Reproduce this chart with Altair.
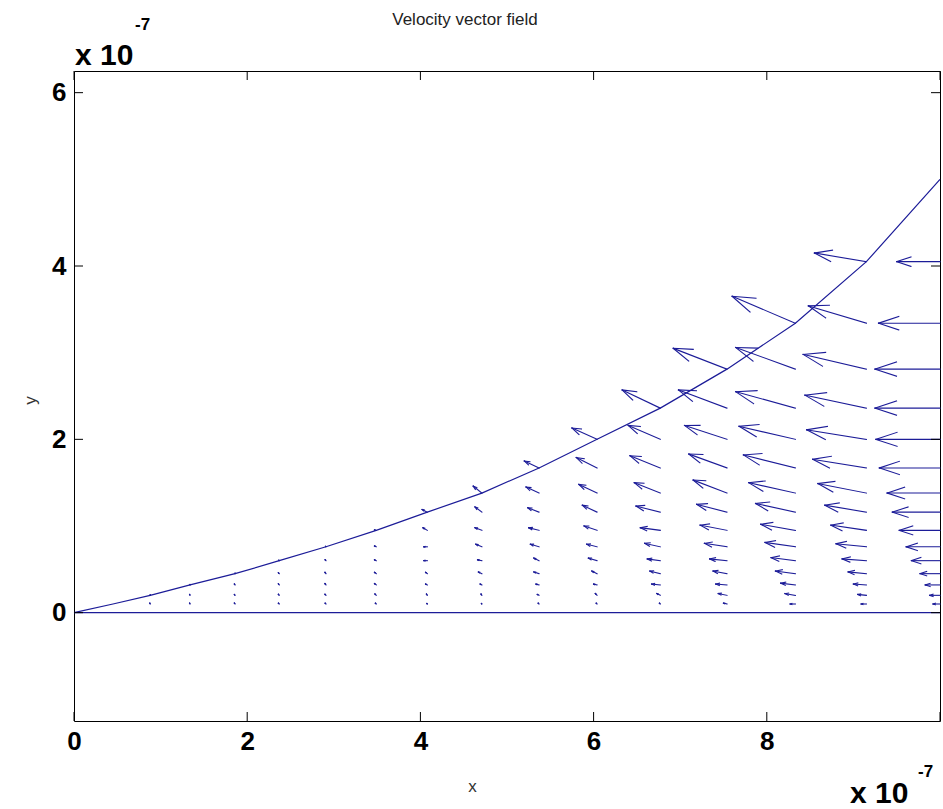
import altair as alt
import pandas as pd

# ---- data (x and y in units of 1e-7) ----
COL_X = [0.45, 0.88, 1.34, 1.86, 2.37, 2.91, 3.49, 4.08, 4.71, 5.37,
         6.04, 6.77, 7.54, 8.33, 9.15, 10.0]
ROW_Y = [0.10, 0.20, 0.32, 0.45, 0.60, 0.76, 0.95, 1.16, 1.38, 1.67,
         2.00, 2.36, 2.81, 3.34, 4.05, 5.00]

# upper boundary curve and the lower wall
CURVE_X = [0.0] + COL_X
CURVE_Y = [0.0] + ROW_Y
BASE_X = [0.0, 10.0]
BASE_Y = [0.0, 0.0]

# drawn vector components per column (bottom row first)
U_COLS = [
    [0.0],
    [-0.005, 0.0],
    [-0.005, -0.005, 0.0],
    [-0.008, -0.008, -0.008, 0.0],
    [-0.01, -0.01, -0.01, -0.01, -0.005],
    [-0.01, -0.012, -0.012, -0.012, -0.01, -0.005],
    [-0.01, -0.015, -0.02, -0.02, -0.02, -0.02, -0.02],
    [-0.005, -0.01, -0.02, -0.02, -0.04, -0.04, -0.05, -0.06],
    [-0.005, -0.01, -0.02, -0.04, -0.05, -0.07, -0.08, -0.08, -0.10],
    [-0.01, -0.02, -0.035, -0.06, -0.06, -0.10, -0.12, -0.13, -0.15, -0.17],
    [-0.01, -0.02, -0.04, -0.06, -0.10, -0.12, -0.15, -0.17, -0.21, -0.24, -0.29],
    [-0.01, -0.04, -0.10, -0.12, -0.15, -0.18, -0.23, -0.28, -0.30, -0.35, -0.37, -0.44],
    [-0.04, -0.10, -0.13, -0.16, -0.20, -0.26, -0.31, -0.35, -0.39, -0.44, -0.49, -0.56, -0.62],
    [-0.06, -0.12, -0.17, -0.23, -0.28, -0.35, -0.40, -0.46, -0.54, -0.60, -0.65, -0.69, -0.69, -0.73],
    [-0.06, -0.10, -0.15, -0.21, -0.28, -0.35, -0.41, -0.48, -0.56, -0.62, -0.69, -0.71, -0.73, -0.67, -0.60],
    [-0.08, -0.12, -0.17, -0.23, -0.33, -0.39, -0.47, -0.55, -0.61, -0.70, -0.74, -0.75, -0.75, -0.71, -0.50],
]
V_COLS = [
    [0.0],
    [0.01, 0.005],
    [0.01, 0.01, 0.005],
    [0.01, 0.01, 0.01, 0.005],
    [0.01, 0.012, 0.012, 0.01, 0.005],
    [0.01, 0.012, 0.015, 0.015, 0.01, 0.005],
    [0.01, 0.015, 0.015, 0.015, 0.01, 0.01, 0.005],
    [0.005, 0.015, 0.01, 0.015, 0.0, 0.0, 0.03, 0.03],
    [0.005, 0.015, 0.01, 0.02, 0.01, 0.03, 0.03, 0.06, 0.08],
    [0.01, 0.01, 0.01, 0.02, 0.03, 0.03, 0.03, 0.05, 0.07, 0.08],
    [0.01, 0.02, 0.01, 0.03, 0.03, 0.03, 0.05, 0.08, 0.10, 0.12, 0.13],
    [0.01, 0.02, 0.01, 0.03, 0.02, 0.04, 0.03, 0.07, 0.12, 0.14, 0.16, 0.21],
    [0.01, 0.02, 0.01, 0.03, 0.02, 0.04, 0.06, 0.09, 0.15, 0.16, 0.16, 0.21, 0.24],
    [0.0, 0.02, 0.02, 0.03, 0.035, 0.05, 0.07, 0.10, 0.12, 0.15, 0.15, 0.19, 0.25, 0.31],
    [0.0, 0.01, 0.01, 0.02, 0.02, 0.035, 0.06, 0.08, 0.11, 0.10, 0.11, 0.15, 0.17, 0.20, 0.10],
    [0.0] * 15,
]

XTICKS = [0, 2, 4, 6, 8, 10]
XLABELS = [0, 2, 4, 6, 8]
YTICKS = [0, 2, 4, 6]
TITLE = "Velocity vector field"
EXP_TEXT = "x 10"
EXP_SUP = "-7"

# ---- build quiver segments (shaft + two barbs, MATLAB style) ----
ALPHA, BETA = 0.33, 0.33
segs = []
for cx, us, vs in zip(COL_X, U_COLS, V_COLS):
    for ry, u, v in zip(ROW_Y, us, vs):
        if u == 0 and v == 0:
            continue
        hx, hy = cx + u, ry + v
        segs.append({"x": cx, "y": ry, "x2": hx, "y2": hy})
        segs.append({"x": hx - ALPHA * (u + BETA * v), "y": hy - ALPHA * (v - BETA * u),
                     "x2": hx, "y2": hy})
        segs.append({"x": hx - ALPHA * (u - BETA * v), "y": hy - ALPHA * (v + BETA * u),
                     "x2": hx, "y2": hy})
seg_df = pd.DataFrame(segs)

curve_df = pd.DataFrame({"i": range(len(CURVE_X)), "x": CURVE_X, "y": CURVE_Y})
base_df = pd.DataFrame({"i": [0, 1], "x": BASE_X, "y": BASE_Y})

W, H = 866, 650
BLUE = "#1c1c98"
FONT = "Liberation Sans"

xscale = alt.Scale(domain=[0, 10], nice=False, zero=False)
yscale = alt.Scale(domain=[-1.25, 6.25], nice=False, zero=False)

xaxis = alt.Axis(values=XLABELS, ticks=False, domain=False, grid=False,
                 labelFont=FONT, labelFontSize=26, labelFontWeight="bold",
                 labelColor="black", labelPadding=7, labelFlush=False,
                 labelOverlap=False, format="d",
                 title="x", titleFont=FONT, titleFontSize=17,
                 titleFontWeight="normal", titleColor="#333333",
                 titleX=398, titleY=70, titleBaseline="alphabetic")
yaxis = alt.Axis(values=YTICKS, ticks=False, domain=False, grid=False,
                 labelFont=FONT, labelFontSize=26, labelFontWeight="bold",
                 labelColor="black", labelPadding=8, labelFlush=False,
                 labelOverlap=False, format="d",
                 title="y", titleFont=FONT, titleFontSize=17,
                 titleFontWeight="normal", titleColor="#333333",
                 titleX=-44, titleY=329, titleAngle=270,
                 titleAlign="center", titleBaseline="middle")

curve = alt.Chart(curve_df).mark_line(color=BLUE, strokeWidth=1.2).encode(
    x=alt.X("x:Q", scale=xscale, axis=xaxis),
    y=alt.Y("y:Q", scale=yscale, axis=yaxis),
    order="i:Q",
)
base = alt.Chart(base_df).mark_line(color=BLUE, strokeWidth=1.2).encode(
    x=alt.X("x:Q", scale=xscale, axis=xaxis),
    y=alt.Y("y:Q", scale=yscale, axis=yaxis),
    order="i:Q",
)
arrows = alt.Chart(seg_df).mark_rule(color=BLUE, strokeWidth=1.1, strokeCap="square").encode(
    x=alt.X("x:Q", scale=xscale, axis=xaxis),
    y=alt.Y("y:Q", scale=yscale, axis=yaxis),
    x2="x2:Q",
    y2="y2:Q",
)

xt_df = pd.DataFrame({"t": XTICKS})
yt_df = pd.DataFrame({"t": YTICKS})
tick_bot = alt.Chart(xt_df).mark_rule(color="black").encode(
    x=alt.X("t:Q", scale=xscale, axis=xaxis), y=alt.value(H), y2=alt.value(H - 9))
tick_top = alt.Chart(xt_df).mark_rule(color="black").encode(
    x=alt.X("t:Q", scale=xscale, axis=xaxis), y=alt.value(0), y2=alt.value(9))
tick_left = alt.Chart(yt_df).mark_rule(color="black").encode(
    y=alt.Y("t:Q", scale=yscale, axis=yaxis), x=alt.value(0), x2=alt.value(9))
tick_right = alt.Chart(yt_df).mark_rule(color="black").encode(
    y=alt.Y("t:Q", scale=yscale, axis=yaxis), x=alt.value(W), x2=alt.value(W - 9))

lab_df = pd.DataFrame({"t": [EXP_TEXT]})
sup_df = pd.DataFrame({"t": [EXP_SUP]})
title_df = pd.DataFrame({"t": [TITLE]})


def txt(df, size, x, y, weight="bold", align="left", color="black"):
    return alt.Chart(df).mark_text(font=FONT, fontSize=size, fontWeight=weight,
                                   align=align, baseline="alphabetic", color=color).encode(
        text="t:N", x=alt.value(x), y=alt.value(y))


exp_tl = txt(lab_df, 30, 1, -6)
sup_tl = txt(sup_df, 17, 61, -41)
exp_br = txt(lab_df, 30, 776, 732)
sup_br = txt(sup_df, 17, 844, 706)
title = txt(title_df, 17, 391, -46, weight="normal", align="center", color="#222222")

chart = alt.layer(
    base, curve, arrows, tick_bot, tick_top, tick_left, tick_right,
    exp_tl, sup_tl, exp_br, sup_br, title,
).properties(
    width=W, height=H,
    autosize=alt.AutoSizeParams(type="none"),
    padding={"left": 74, "top": 71, "right": 3, "bottom": 88},
    background="white",
).configure_view(stroke="black", strokeWidth=1)

chart.save("out.html", embed_options={"renderer": "svg", "actions": False})
